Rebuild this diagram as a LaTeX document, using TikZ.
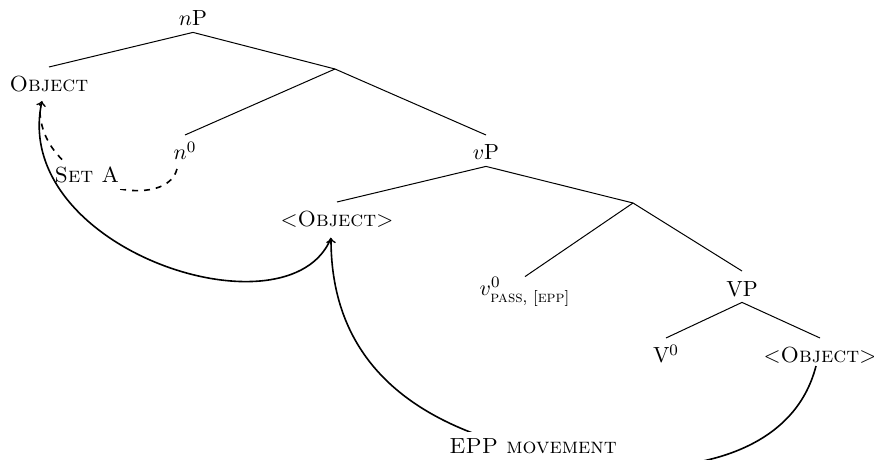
\documentclass[tikz,border=0pt]{standalone}
\usepackage{amsmath}
\usetikzlibrary{calc}
\begin{document}
\begin{tikzpicture}[x=0.5pt,y=-0.5pt,font=\fontsize{10.95}{13}\selectfont,
  tn/.style={anchor=base,inner sep=3pt,text height=9.3pt,text depth=0pt},
  edge/.style={line width=0.5pt},
  mv/.style={line width=0.8pt},
  lbl/.style={anchor=base,fill=white,inner sep=3pt}]
\useasboundingbox (0,0) rectangle (874,460);
% tree nodes
\node[tn] (nP) at (193,26) {$n$P};
\node[tn] (obj) at (49,92) {\textsc{Object}};
\coordinate (b1) at (335,69);
\node[tn] (n0) at (185,160) {$n^0$};
\node[tn] (vP) at (486,160) {$v$P};
\node[tn] (obj1) at (337,227) {$<$\textsc{Object}$>$};
\coordinate (b2) at (633,203);
\node[tn,text height=6pt] (v0) at (525,295) {$v^{0}_{\text{\textsc{pass}, [\textsc{epp}]}}$};
\node[tn] (VP) at (742,296) {VP};
\node[tn] (V0) at (666,363) {V$^0$};
\node[tn] (obj2) at (820,363) {$<$\textsc{Object}$>$};
% edges
\draw[edge] (nP.south) -- (obj.north);
\draw[edge] (nP.south) -- (b1);
\draw[edge] (b1) -- (n0.north);
\draw[edge] (b1) -- (vP.north);
\draw[edge] (vP.south) -- (obj1.north);
\draw[edge] (vP.south) -- (b2);
\draw[edge] (b2) -- (v0.north);
\draw[edge] (b2) -- (VP.north);
\draw[edge] (VP.south) -- (V0.north);
\draw[edge] (VP.south) -- (obj2.north);
% Set A dashed curve
\coordinate (nstart) at ($(n0.base)+(-8,9)$);
\coordinate (oend) at ($(obj.base)+(-9,12)$);
\draw[mv,dashed] (nstart) .. controls +(-12,46) and +(-5,81) .. (oend);
\node[lbl] (setA) at (87,183) {\textsc{Set A}};
% movement of object
\coordinate (o1s) at ($(obj1.base)+(-6,11)$);
\coordinate (oe) at ($(obj.base)+(-7,9)$);
\draw[mv,->] (o1s) .. controls +(-41,102) and +(-32,149) .. (oe);
% EPP movement
\coordinate (o2s) at ($(obj2.base)+(-4,3)$);
\coordinate (low) at (645,467);
\draw[mv,->] (o2s) .. controls +(-21,82) and +(60,0) .. (low)
  .. controls +(-115,-10) and +(0,192) .. (o1s);
\node[lbl,text depth=3pt] (epp) at (533,453) {\textsc{EPP movement}};
\end{tikzpicture}
\end{document}
